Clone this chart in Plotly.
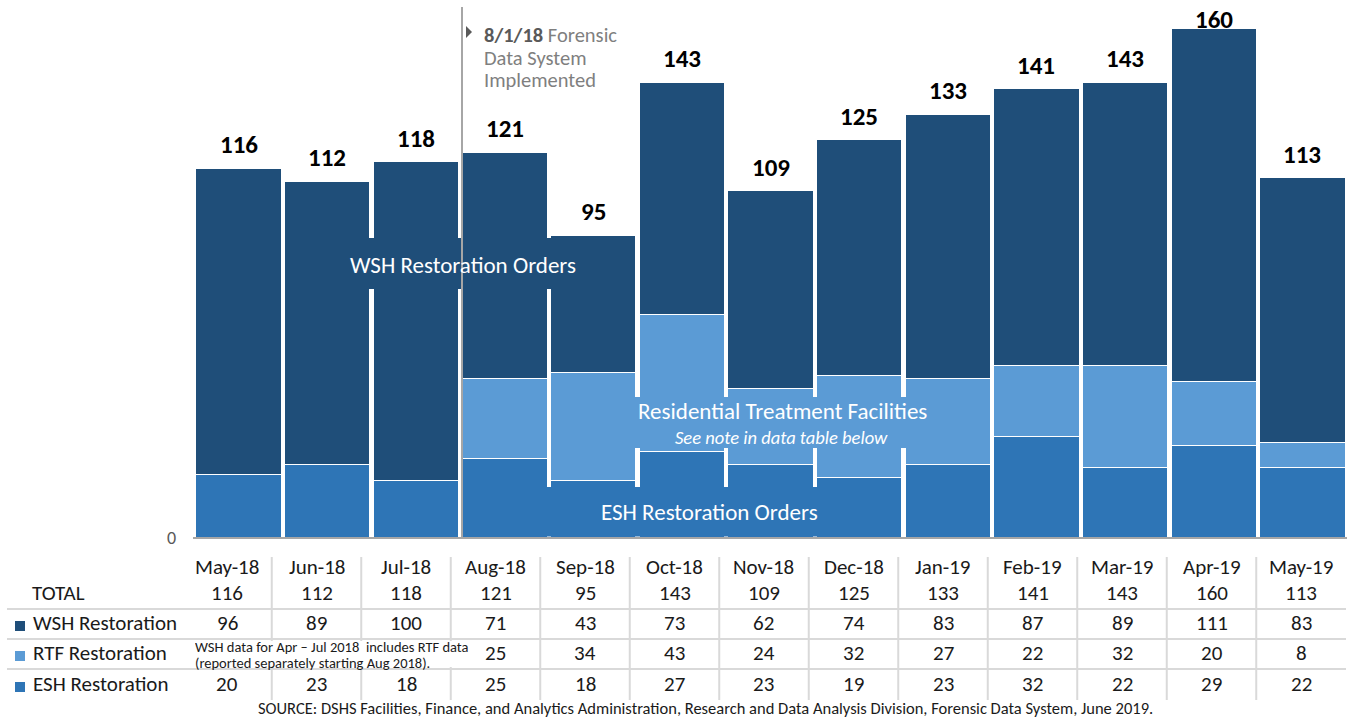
import plotly.graph_objects as go

W, H = 1359, 719

months = ["May-18", "Jun-18", "Jul-18", "Aug-18", "Sep-18", "Oct-18", "Nov-18",
          "Dec-18", "Jan-19", "Feb-19", "Mar-19", "Apr-19", "May-19"]
wsh = [96, 89, 100, 71, 43, 73, 62, 74, 83, 87, 89, 111, 83]
rtf = [None, None, None, 25, 34, 43, 24, 32, 27, 22, 32, 20, 8]
esh = [20, 23, 18, 25, 18, 27, 23, 19, 23, 32, 22, 29, 22]
totals = [116, 112, 118, 121, 95, 143, 109, 125, 133, 141, 143, 160, 113]

C_WSH = "#1F4E79"
C_RTF = "#5B9BD5"
C_ESH = "#2E75B6"
FONT = "Calibri, Carlito, Lato, sans-serif"


def px(x):
    return x / W


def py(y):
    return 1 - y / H


Y_ZERO = 538
Y_PER = 3.1875

fig = go.Figure()
for name, vals, col in [("ESH Restoration", esh, C_ESH),
                        ("RTF Restoration", rtf, C_RTF),
                        ("WSH Restoration", wsh, C_WSH)]:
    fig.add_trace(go.Bar(x=months, y=vals, name=name, marker_color=col,
                         marker_line_color="white", marker_line_width=1,
                         showlegend=False, hoverinfo="x+y+name"))

shapes = []
annotations = []


def txt(x, y, text, size, color="#1A1A1A", xanchor="center", yanchor="middle",
        xref="paper", yref="paper", **kw):
    annotations.append(dict(x=x, y=y, xref=xref, yref=yref, text=text,
                            showarrow=False, xanchor=xanchor, yanchor=yanchor,
                            font=dict(size=size, color=color, family=FONT), **kw))


# totals above bars (kept inside the chart when the bar reaches the top)
for m, t in zip(months, totals):
    bar_top_px = Y_ZERO - t * Y_PER
    shift = 6 if bar_top_px > 60 else -9
    txt(m, t, f"<b>{t}</b>", 25, color="#000000", yanchor="bottom",
        xref="x", yref="y", yshift=shift)


def rect(x0, y0, x1, y1, color):
    shapes.append(dict(type="rect", xref="paper", yref="paper", layer="above",
                       x0=px(x0), x1=px(x1), y0=py(y1), y1=py(y0),
                       fillcolor=color, line=dict(width=0)))


# label background boxes (cover the bar gaps)
rect(345, 238, 582, 289, C_WSH)
rect(628, 397, 933, 448, C_RTF)
rect(530, 487, 885, 536.5, C_ESH)

# vertical implementation line
shapes.append(dict(type="line", xref="paper", yref="paper", layer="above",
                   x0=px(462), x1=px(462), y0=py(7), y1=py(538),
                   line=dict(color="#A6A6A6", width=2)))
# triangle marker
shapes.append(dict(type="path", xref="paper", yref="paper", layer="above",
                   path=f"M {px(466)},{py(26)} L {px(472)},{py(32)} L {px(466)},{py(38)} Z",
                   fillcolor="#595959", line=dict(width=0)))
# x axis line
shapes.append(dict(type="line", xref="paper", yref="paper", layer="above",
                   x0=px(193), x1=px(1347), y0=py(538), y1=py(538),
                   line=dict(color="#A6A6A6", width=2)))

for yy, line in [(35, "<b><span style='color:#595959'>8/1/18</span></b> Forensic"),
                 (57.5, "Data System"), (80, "Implemented")]:
    txt(px(482), py(yy), line, 20.5, color="#7F7F7F", xanchor="left", height=22)

txt(px(463), py(265), "WSH Restoration Orders", 23, color="white")
txt(px(782), py(411), "Residential Treatment Facilities", 23, color="white")
txt(px(781), py(437), "<i>See note in data table below</i>", 18.5, color="white")
txt(px(709), py(512), "ESH Restoration Orders", 23, color="white")

txt(px(172), py(538), "0", 18, color="#595959")

# ---- data table ----
COL0 = 227
COLW = 89.5
row_y = {"month": 567, "total": 593, "wsh": 623, "rtf": 653, "esh": 684}

for y in (609, 639, 669):
    shapes.append(dict(type="line", xref="paper", yref="paper", layer="above",
                       x0=px(7), x1=px(1346), y0=py(y), y1=py(y),
                       line=dict(color="#D9D9D9", width=2)))
for k in range(len(months) - 1):
    xx = COL0 + COLW * (k + 0.5)
    shapes.append(dict(type="line", xref="paper", yref="paper", layer="above",
                       x0=px(xx), x1=px(xx), y0=py(557), y1=py(700),
                       line=dict(color="#D9D9D9", width=2)))

# white box behind the RTF note
rect(190, 641, 472, 667, "white")

for i, m in enumerate(months):
    cx = px(COL0 + COLW * i)
    cells = [("month", m), ("total", totals[i]), ("wsh", wsh[i]),
             ("rtf", rtf[i]), ("esh", esh[i])]
    for key, val in cells:
        if val is None:
            continue
        txt(cx, py(row_y[key]), str(val), 21)

txt(px(30), py(row_y["total"]), "TOTAL", 21, xanchor="left")
for key, label, col in [("wsh", "WSH Restoration", C_WSH),
                        ("rtf", "RTF Restoration", C_RTF),
                        ("esh", "ESH Restoration", C_ESH)]:
    yc = row_y[key] + 3
    shapes.append(dict(type="rect", xref="paper", yref="paper", layer="above",
                       x0=px(15), x1=px(25), y0=py(yc + 5), y1=py(yc - 5),
                       fillcolor=col, line=dict(width=0)))
    txt(px(31), py(row_y[key]), label, 21, xanchor="left")

txt(px(193), py(647), "WSH data for Apr \u2013 Jul 2018  includes RTF data", 14.5,
    xanchor="left", height=16)
txt(px(193), py(663), "(reported separately starting Aug 2018).", 14.5,
    xanchor="left", height=16)

txt(px(705), py(708),
    "SOURCE: DSHS Facilities, Finance, and Analytics Administration, Research and Data Analysis Division, Forensic Data System, June 2019.",
    16.5)

fig.update_layout(
    width=W, height=H, autosize=False,
    margin=dict(l=0, r=0, t=0, b=0),
    paper_bgcolor="white", plot_bgcolor="white",
    barmode="stack", bargap=0.035,
    font=dict(family=FONT),
    xaxis=dict(domain=[px(194.2), px(1346.8)], range=[-0.5, 12.5], type="category",
               showticklabels=False, showgrid=False, zeroline=False, showline=False,
               ticks=""),
    yaxis=dict(domain=[py(Y_ZERO), 1], range=[0, Y_ZERO / Y_PER],
               showticklabels=False, showgrid=False, zeroline=False, showline=False,
               ticks=""),
    shapes=shapes, annotations=annotations,
)

fig.write_html("out.html", config={"displayModeBar": False},
               post_script="document.body.style.margin='0';document.body.style.overflow='hidden';")
